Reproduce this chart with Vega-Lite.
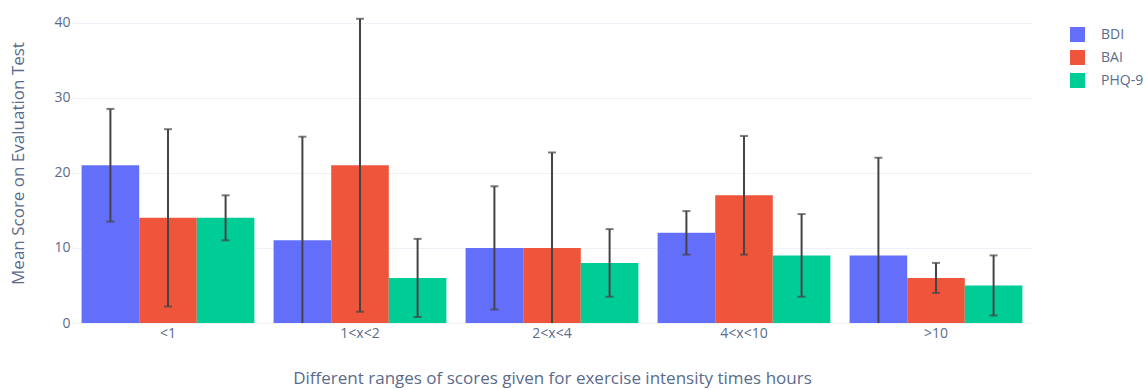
{
  "$schema": "https://vega.github.io/schema/vega-lite/v6.json",
  "autosize": {"type": "none"},
  "width": 960,
  "height": 320,
  "padding": {"left": 72, "top": 3, "right": 114, "bottom": 66},
  "background": "white",
  "config": {
    "font": "Open Sans",
    "view": {"stroke": null},
    "axis": {"labelColor": "#5a6b8c", "titleColor": "#5a6b8c", "labelFont": "Open Sans", "titleFont": "Open Sans", "titleFontWeight": "normal"},
    "legend": {"labelColor": "#5a6b8c", "labelFont": "Open Sans"}
  },
  "data": {
    "values": [
      {"group": "<1", "test": "BDI", "mean": 21, "lo": 13.5, "hi": 28.5},
      {"group": "<1", "test": "BAI", "mean": 14, "lo": 2.2, "hi": 25.8},
      {"group": "<1", "test": "PHQ-9", "mean": 14, "lo": 11, "hi": 17},
      {"group": "1<x<2", "test": "BDI", "mean": 11, "lo": -2.8, "hi": 24.8},
      {"group": "1<x<2", "test": "BAI", "mean": 21, "lo": 1.5, "hi": 40.5},
      {"group": "1<x<2", "test": "PHQ-9", "mean": 6, "lo": 0.8, "hi": 11.2},
      {"group": "2<x<4", "test": "BDI", "mean": 10, "lo": 1.8, "hi": 18.2},
      {"group": "2<x<4", "test": "BAI", "mean": 10, "lo": -2.7, "hi": 22.7},
      {"group": "2<x<4", "test": "PHQ-9", "mean": 8, "lo": 3.5, "hi": 12.5},
      {"group": "4<x<10", "test": "BDI", "mean": 12, "lo": 9.1, "hi": 14.9},
      {"group": "4<x<10", "test": "BAI", "mean": 17, "lo": 9.1, "hi": 24.9},
      {"group": "4<x<10", "test": "PHQ-9", "mean": 9, "lo": 3.5, "hi": 14.5},
      {"group": ">10", "test": "BDI", "mean": 9, "lo": -4, "hi": 22},
      {"group": ">10", "test": "BAI", "mean": 6, "lo": 4, "hi": 8},
      {"group": ">10", "test": "PHQ-9", "mean": 5, "lo": 1, "hi": 9}
    ]
  },
  "encoding": {
    "x": {
      "field": "group",
      "type": "nominal",
      "sort": ["<1", "1<x<2", "2<x<4", "4<x<10", ">10"],
      "scale": {"paddingInner": 0.1, "paddingOuter": 0.05},
      "axis": {
        "title": "Different ranges of scores given for exercise intensity times hours",
        "titleFontSize": 17,
        "titlePadding": 30,
        "labelAngle": 0,
        "labelFontSize": 14,
        "labelPadding": 3,
        "ticks": false,
        "domain": false,
        "grid": false
      }
    },
    "xOffset": {
      "field": "test",
      "type": "nominal",
      "sort": ["BDI", "BAI", "PHQ-9"],
      "scale": {"paddingInner": 0, "paddingOuter": 0}
    }
  },
  "layer": [
    {
      "mark": {"type": "rule", "color": "#eaeef6", "strokeWidth": 2},
      "encoding": {"y": {"datum": 0}}
    },
    {
      "mark": {"type": "bar", "clip": true},
      "encoding": {
        "y": {
          "field": "mean",
          "type": "quantitative",
          "scale": {"domain": [0, 42.6], "nice": false, "zero": true},
          "axis": {
            "title": "Mean Score on Evaluation Test",
            "titleFontSize": 17,
            "titlePadding": 26,
            "values": [0, 10, 20, 30, 40],
            "labelFontSize": 14,
            "labelPadding": 2,
            "ticks": false,
            "domain": false,
            "grid": true,
            "gridColor": "#eef2f8",
            "gridWidth": 1
          }
        },
        "color": {
          "field": "test",
          "type": "nominal",
          "sort": ["BDI", "BAI", "PHQ-9"],
          "scale": {"domain": ["BDI", "BAI", "PHQ-9"], "range": ["#636efa", "#ef553b", "#00cc96"]},
          "legend": {
            "title": null,
            "orient": "none",
            "legendX": 998,
            "legendY": 24,
            "symbolType": "square",
            "symbolSize": 225,
            "symbolStrokeWidth": 0,
            "labelFontSize": 14,
            "labelOffset": 16,
            "rowPadding": 8
          }
        }
      }
    },
    {
      "mark": {"type": "rule", "color": "#444444", "strokeWidth": 2, "clip": true},
      "encoding": {
        "y": {"field": "lo", "type": "quantitative"},
        "y2": {"field": "hi"}
      }
    },
    {
      "mark": {"type": "tick", "orient": "horizontal", "color": "#444444", "size": 8, "thickness": 2, "clip": true},
      "encoding": {"y": {"field": "hi", "type": "quantitative"}}
    },
    {
      "mark": {"type": "tick", "orient": "horizontal", "color": "#444444", "size": 8, "thickness": 2, "clip": true},
      "encoding": {"y": {"field": "lo", "type": "quantitative"}}
    }
  ]
}
